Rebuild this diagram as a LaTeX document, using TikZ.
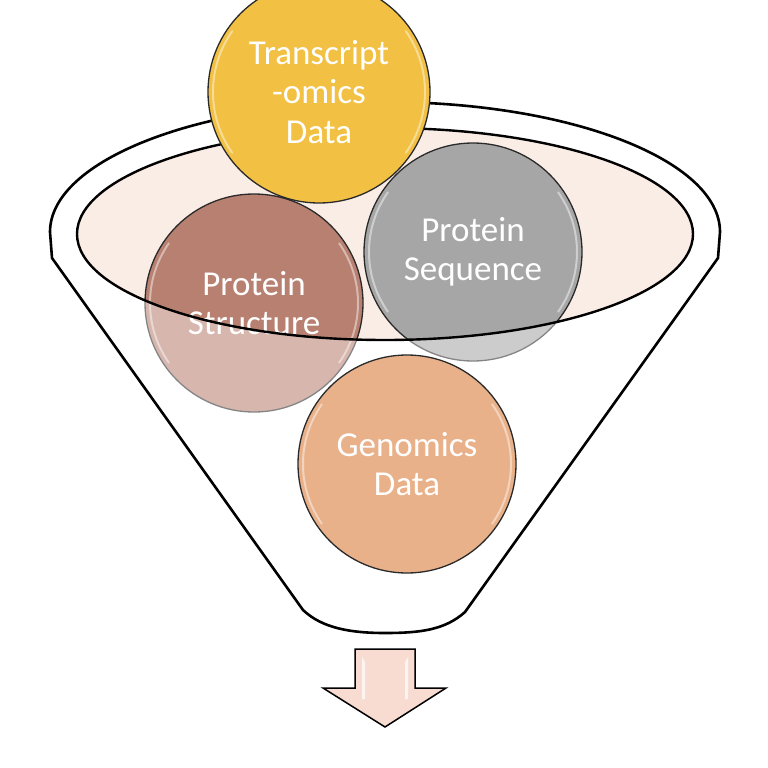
\documentclass[tikz,border=0pt]{standalone}
\usepackage{fontspec}
\setmainfont{Carlito}
\definecolor{yellowc}{HTML}{F2C042}
\definecolor{grayc}{HTML}{A6A6A6}
\definecolor{brownc}{HTML}{B88070}
\definecolor{genc}{HTML}{E9B189}
\definecolor{rimfill}{HTML}{FAEDE6}
\definecolor{arrowc}{HTML}{F8DCD2}
\definecolor{edgec}{HTML}{2A2A2A}
\tikzset{
  bubble/.style={circle, draw=edgec, line width=1.3pt, minimum size=218pt, inner sep=0pt,
    align=center, text=white, font=\fontsize{35}{39.5}\selectfont},
  funnelline/.style={draw=black, line width=2.6pt, line join=round},
  gloss/.style={white, opacity=.45, line width=2pt, line cap=round}
}
\begin{document}
\begin{tikzpicture}[x=1pt,y=-1pt]
\useasboundingbox (0,0) rectangle (768,768);
\clip (0,0) rectangle (768,768);
% funnel body
\path[fill=white] (50,232) arc[start angle=180, end angle=360, x radius=335, y radius=130]
  -- (718,258) -- (465,612) .. controls (445,630) and (420,633) .. (385,633)
  .. controls (350,633) and (322,628) .. (303,610) -- (52,258) -- cycle;
% inner rim fill
\fill[rimfill] (385,234) ellipse [x radius=308, y radius=106];
% circles behind the front of the funnel
\node[bubble, fill=grayc] (seq) at (473,252) {Protein\\Sequence};
\node[bubble, fill=brownc] (str) at (254,303) {Protein\\Structure};
\foreach \c in {seq,str}{
  \draw[gloss] ([shift={(145:104)}]\c.center) arc[start angle=145, end angle=215, radius=104];
  \draw[gloss] ([shift={(-35:104)}]\c.center) arc[start angle=-35, end angle=35, radius=104];
}
% translucent front of the funnel
\fill[white, opacity=.43, even odd rule]
  (50,232) arc[start angle=180, end angle=360, x radius=335, y radius=130]
  -- (718,258) -- (465,612) .. controls (445,630) and (420,633) .. (385,633)
  .. controls (350,633) and (322,628) .. (303,610) -- (52,258) -- cycle
  (385,234) ellipse [x radius=308, y radius=106];
\node[bubble, fill=genc] (gen) at (407,464) {Genomics\\Data};
\draw[gloss] ([shift={(145:104)}]gen.center) arc[start angle=145, end angle=215, radius=104];
\draw[gloss] ([shift={(-35:104)}]gen.center) arc[start angle=-35, end angle=35, radius=104];
% rim outline and funnel outline
\draw[black, line width=2.4pt] (385,234) ellipse [x radius=308, y radius=106];
\draw[funnelline] (50,232) arc[start angle=180, end angle=360, x radius=335, y radius=130]
  -- (718,258) -- (465,612) .. controls (445,630) and (420,633) .. (385,633)
  .. controls (350,633) and (322,628) .. (303,610) -- (52,258) -- cycle;
% top circle
\node[bubble, fill=yellowc, minimum size=222pt] (tra) at (319,92) {Transcript\\-omics\\Data};
\draw[gloss] ([shift={(145:106)}]tra.center) arc[start angle=145, end angle=215, radius=106];
\draw[gloss] ([shift={(-35:106)}]tra.center) arc[start angle=-35, end angle=35, radius=106];
% output arrow
\draw[fill=arrowc, draw=black, line width=1.5pt, line join=miter]
  (355,649) -- (415,649) -- (415,688) -- (446,688) -- (385,727) -- (323,688) -- (355,688) -- cycle;
\fill[white, opacity=.7] (362,657) -- (365,662) -- (365,699) -- (362,699) -- cycle;
\fill[white, opacity=.7] (408,657) -- (405,662) -- (405,699) -- (408,699) -- cycle;
\end{tikzpicture}
\end{document}
